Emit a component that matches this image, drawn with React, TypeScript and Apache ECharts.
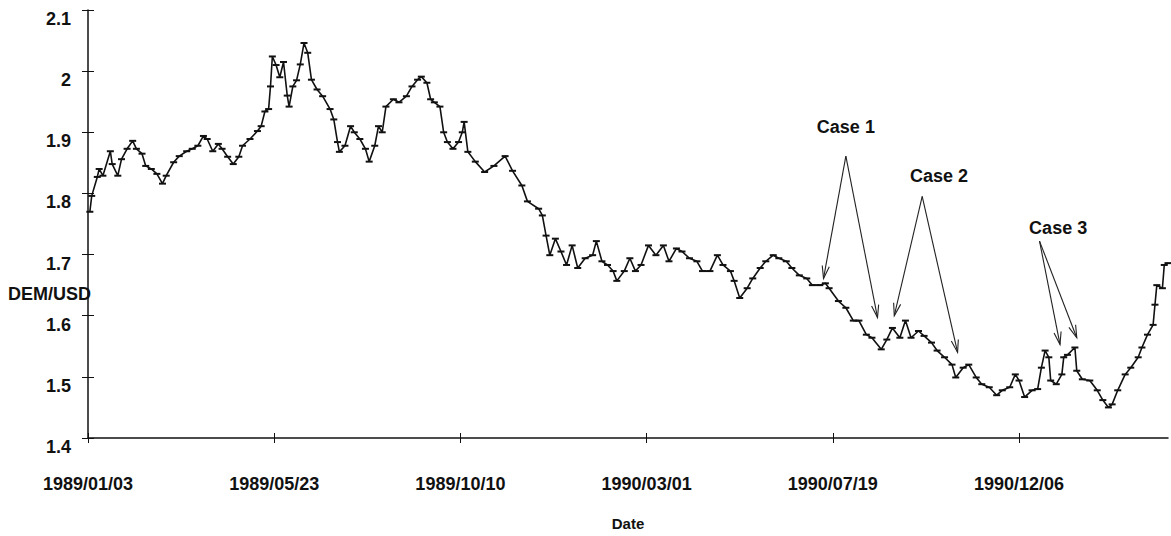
import React, { useEffect, useRef } from "react";
import * as echarts from "echarts";

// Trading-day number (0 = 1989/01/03) and DEM/USD rate at that day
const tradingDay = [
  1, 2, 5, 6, 8, 12, 13, 16, 18, 21, 24, 26, 29, 31, 34, 37, 40, 42, 46, 49,
  53, 56, 59, 62, 64, 67, 70, 72, 75, 78, 81, 83, 87, 91, 93, 95, 97, 98, 99, 101,
  103, 105, 107, 108, 110, 112, 114, 116, 118, 120, 123, 126, 130, 132, 134, 135, 138, 141, 143, 146,
  149, 151, 154, 156, 158, 160, 164, 167, 171, 174, 177, 179, 182, 184, 186, 189, 191, 193, 196, 199,
  201, 202, 204, 208, 213, 218, 224, 228, 233, 236, 242, 244, 246, 248, 251, 254, 257, 260, 263, 267,
  271, 273, 276, 279, 282, 284, 288, 291, 294, 297, 301, 305, 309, 312, 316, 319, 323, 327, 330, 334,
  338, 341, 345, 347, 350, 354, 357, 361, 364, 368, 371, 375, 378, 382, 386, 389, 393, 396, 398, 403,
  407, 411, 414, 418, 421, 426, 429, 432, 436, 439, 442, 446, 449, 453, 456, 460, 464, 466, 470, 473,
  477, 480, 484, 488, 491, 495, 498, 500, 503, 507, 510, 512, 514, 516, 517, 520, 523, 524, 526, 530,
  531, 534, 538, 542, 545, 548, 550, 553, 557, 560, 564, 566, 569, 572, 573, 574, 577, 578, 580,
];

const rate = [
  1.770, 1.796, 1.827, 1.840, 1.829, 1.869, 1.848, 1.829, 1.856, 1.873, 1.886, 1.873, 1.865, 1.845, 1.840, 1.832, 1.816, 1.829, 1.851, 1.861,
  1.869, 1.873, 1.878, 1.894, 1.889, 1.869, 1.881, 1.873, 1.860, 1.848, 1.860, 1.878, 1.889, 1.902, 1.910, 1.934, 1.938, 1.975, 2.024, 2.010,
  1.990, 2.015, 1.960, 1.942, 1.975, 1.985, 2.011, 2.046, 2.030, 1.986, 1.970, 1.959, 1.938, 1.921, 1.884, 1.868, 1.878, 1.910, 1.900, 1.889,
  1.873, 1.852, 1.878, 1.910, 1.900, 1.942, 1.954, 1.949, 1.959, 1.975, 1.986, 1.991, 1.981, 1.954, 1.949, 1.942, 1.900, 1.884, 1.873, 1.884,
  1.900, 1.917, 1.868, 1.852, 1.835, 1.845, 1.861, 1.837, 1.813, 1.787, 1.775, 1.764, 1.731, 1.699, 1.726, 1.705, 1.683, 1.715, 1.678, 1.694,
  1.699, 1.722, 1.689, 1.683, 1.673, 1.657, 1.673, 1.694, 1.673, 1.683, 1.715, 1.699, 1.715, 1.689, 1.710, 1.705, 1.694, 1.689, 1.673, 1.673,
  1.699, 1.683, 1.673, 1.657, 1.629, 1.645, 1.661, 1.678, 1.689, 1.699, 1.694, 1.689, 1.678, 1.666, 1.661, 1.650, 1.650, 1.653, 1.645, 1.624,
  1.613, 1.592, 1.592, 1.569, 1.564, 1.545, 1.561, 1.580, 1.564, 1.592, 1.564, 1.575, 1.567, 1.556, 1.543, 1.532, 1.520, 1.499, 1.515, 1.520,
  1.499, 1.488, 1.483, 1.470, 1.478, 1.483, 1.504, 1.494, 1.467, 1.478, 1.480, 1.515, 1.543, 1.532, 1.494, 1.488, 1.504, 1.532, 1.536, 1.548,
  1.510, 1.496, 1.494, 1.478, 1.462, 1.450, 1.455, 1.478, 1.504, 1.515, 1.532, 1.548, 1.569, 1.585, 1.618, 1.650, 1.645, 1.683, 1.686,
];

// Date labels, one every 100 trading days
const dateTicks = [0, 100, 200, 300, 400, 500];
const dateLabels = ["1989/01/03", "1989/05/23", "1989/10/10", "1990/03/01", "1990/07/19", "1990/12/06"];

// Annotated cases: label position, arrow apex and arrow tips, in [trading day, rate]
const caseNames = ["Case 1", "Case 2", "Case 3"];
const caseLabelAt = [[407, 1.908], [457, 1.829], [521, 1.744]];
const caseApex = [[407, 1.861], [448, 1.795], [511, 1.722]];
const caseTips = [
  [[395, 1.661], [424, 1.597]],
  [[433, 1.600], [467, 1.540]],
  [[522, 1.553], [531, 1.564]],
];

const FONT = "'Liberation Sans', Arial, Helvetica, sans-serif";

export default function App() {
  const ref = useRef<HTMLDivElement>(null);

  useEffect(() => {
    if (!ref.current) return;
    const chart = echarts.init(ref.current, undefined, { renderer: "svg" });
    const points = tradingDay.map((d, i) => [d, rate[i]]);

    const yCommon = {
      type: "value" as const,
      min: 1.4,
      max: 2.1,
      interval: 0.1,
      splitLine: { show: false },
    };
    const xCommon = {
      type: "value" as const,
      min: 0,
      max: 580,
      interval: 100,
      splitLine: { show: false },
    };

    chart.setOption({
      animation: false,
      backgroundColor: "#ffffff",
      grid: { left: 88, right: 3, top: 10, bottom: 95 },
      xAxis: [
        {
          ...xCommon,
          name: "Date",
          nameLocation: "middle",
          nameGap: 78,
          nameTextStyle: { color: "#111", fontFamily: FONT, fontWeight: "bold", fontSize: 15 },
          axisLine: { show: true, lineStyle: { color: "#111", width: 1.5 } },
          axisTick: { show: true, length: 5, customValues: dateTicks, lineStyle: { color: "#111", width: 1 } },
          axisLabel: {
            customValues: dateTicks,
            formatter: (v: number) => dateLabels[dateTicks.indexOf(Math.round(v))] ?? "",
            margin: 37,
            color: "#111",
            fontFamily: FONT,
            fontWeight: "bold",
            fontSize: 18,
          },
        },
        {
          ...xCommon,
          position: "bottom",
          axisLine: { show: false },
          axisTick: { show: true, inside: true, length: 5, customValues: dateTicks, lineStyle: { color: "#111", width: 1 } },
          axisLabel: { show: false },
        },
      ],
      yAxis: [
        {
          ...yCommon,
          axisLine: { show: true, lineStyle: { color: "#111", width: 1.5 } },
          axisTick: { show: true, length: 6, lineStyle: { color: "#111", width: 1 } },
          axisLabel: {
            margin: 17,
            verticalAlign: "top",
            color: "#111",
            fontFamily: FONT,
            fontWeight: "bold",
            fontSize: 18,
            formatter: (v: number) => (Math.abs(v - 2) < 1e-6 ? "2" : v.toFixed(1)),
          },
        },
        {
          ...yCommon,
          position: "left",
          axisLine: { show: false },
          axisTick: { show: true, inside: true, length: 6, lineStyle: { color: "#111", width: 1 } },
          axisLabel: { show: false },
        },
      ],
      series: [
        {
          type: "line",
          xAxisIndex: 0,
          yAxisIndex: 0,
          data: points,
          showSymbol: true,
          symbol: "rect",
          symbolSize: [7, 2],
          itemStyle: { color: "#111" },
          lineStyle: { color: "#111", width: 1.6 },
        },
      ],
    });

    // Annotation arrows with open V heads, positioned through the grid's scales
    const px = (p: number[]) => chart.convertToPixel({ gridIndex: 0 }, p) as number[];
    const graphics: any[] = [];
    const headLen = 13;
    const headAngle = (16 * Math.PI) / 180;
    caseNames.forEach((name, i) => {
      const lp = px(caseLabelAt[i]);
      graphics.push({
        type: "text",
        x: lp[0],
        y: lp[1],
        style: {
          text: name,
          fill: "#111",
          font: `bold 18px ${FONT}`,
          align: "center",
          verticalAlign: "middle",
        },
      });
      const a = px(caseApex[i]);
      caseTips[i].forEach((tipV) => {
        const t = px(tipV);
        graphics.push({
          type: "line",
          shape: { x1: a[0], y1: a[1], x2: t[0], y2: t[1] },
          style: { stroke: "#222", lineWidth: 1.1 },
        });
        const back = Math.atan2(a[1] - t[1], a[0] - t[0]);
        const h1 = [t[0] + headLen * Math.cos(back + headAngle), t[1] + headLen * Math.sin(back + headAngle)];
        const h2 = [t[0] + headLen * Math.cos(back - headAngle), t[1] + headLen * Math.sin(back - headAngle)];
        graphics.push({
          type: "polyline",
          shape: { points: [h1, t, h2] },
          style: { stroke: "#222", lineWidth: 1.1, fill: null },
        });
      });
    });
    graphics.push({
      type: "text",
      x: 8,
      y: 294,
      style: {
        text: "DEM/USD",
        fill: "#111",
        font: `bold 18px ${FONT}`,
        align: "left",
        verticalAlign: "middle",
      },
    });
    chart.setOption({ graphic: graphics });

    return () => chart.dispose();
  }, []);

  return (
    <div
      ref={ref}
      style={{ position: "fixed", left: 0, top: 0, width: 1171, height: 536, background: "#fff" }}
    />
  );
}
